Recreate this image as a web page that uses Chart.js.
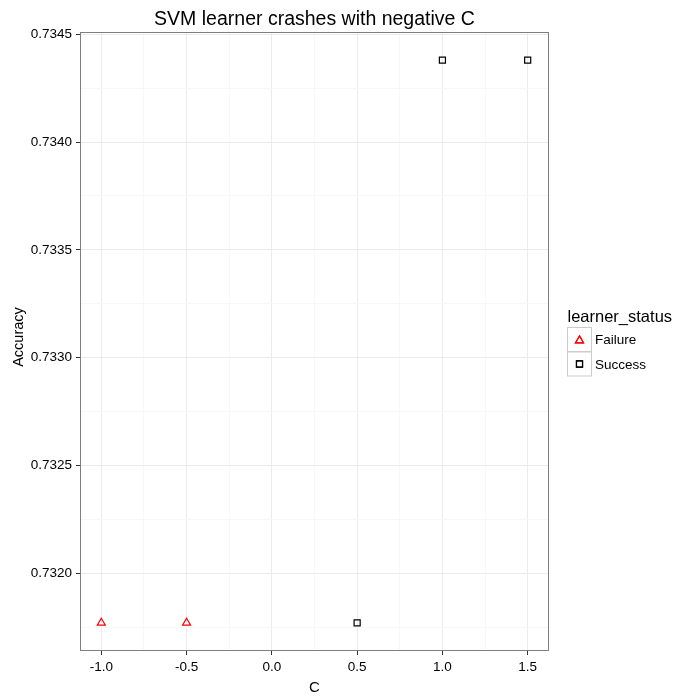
<!DOCTYPE html>
<html>
<head>
<meta charset="utf-8">
<script src="https://cdn.jsdelivr.net/npm/chart.js@4"></script>
<style>
  html, body { margin:0; padding:0; background:#fff; }
  #c { display:block; }
</style>
</head>
<body>
<canvas id="c" width="700" height="700"></canvas>
<script>
// SVM accuracy vs C, failures in red

const failureC = [-1.0, -0.5];
const failureAcc = [0.73177, 0.73177];
const successC = [0.5, 1.0, 1.5];
const successAcc = [0.73177, 0.73438, 0.73438];

const xMajor = [-1.0, -0.5, 0.0, 0.5, 1.0, 1.5];
const xMinor = [-0.75, -0.25, 0.25, 0.75, 1.25];
const yMajor = [0.7320, 0.7325, 0.7330, 0.7335, 0.7340, 0.7345];
const yMinor = [0.73175, 0.73225, 0.73275, 0.73325, 0.73375, 0.73425];

const FONT = '"Liberation Sans", Arial, sans-serif';

// ggplot-ish range expansion (5%)
function expand(vals){
  const lo = Math.min(...vals), hi = Math.max(...vals), d = (hi-lo)*0.05;
  return [lo-d, hi+d];
}
const [xMin, xMax] = expand(failureC.concat(successC));
const [yMin, yMax] = expand(failureAcc.concat(successAcc));

const isMajor = (list, v) => list.some(m => Math.abs(m-v) < 1e-9);

function setTicks(major, minor){
  return scale => {
    scale.ticks = major.concat(minor).sort((a,b)=>a-b).map(v => ({value:v}));
  };
}

const frame = {
  id:'frame',
  afterDraw(chart){
    const {ctx, chartArea:a} = chart;
    ctx.save();
    ctx.strokeStyle = '#7f7f7f';
    ctx.lineWidth = 1;
    ctx.strokeRect(a.left+0.5, a.top+0.5, a.right-a.left-1, a.bottom-a.top-1);

    ctx.fillStyle = '#000';
    ctx.textAlign = 'center';
    ctx.textBaseline = 'alphabetic';
    ctx.font = '19.5px ' + FONT;
    ctx.fillText('SVM learner crashes with negative C', (a.left+a.right)/2, 25);

    ctx.font = '15px ' + FONT;
    ctx.fillText('C', (a.left+a.right)/2, 692);
    ctx.save();
    ctx.translate(23, 337);
    ctx.rotate(-Math.PI/2);
    ctx.font = '14.5px ' + FONT;
    ctx.fillText('Accuracy', 0, 0);
    ctx.restore();

    // legend
    ctx.textAlign = 'left';
    ctx.font = '16.5px ' + FONT;
    ctx.fillText('learner_status', 567.5, 322);
    const keys = [
      {label:'Failure', style:'triangle', color:'#ff0000', r:4.6},
      {label:'Success', style:'rect', color:'#000000', r:4.3}
    ];
    keys.forEach((k,i)=>{
      const x = 567.5, y = 327.5 + i*24.5, s = 24;
      ctx.fillStyle = '#fff';
      ctx.fillRect(x, y, s, s);
      ctx.strokeStyle = '#cccccc';
      ctx.lineWidth = 1;
      ctx.strokeRect(x, y, s, s);
      ctx.strokeStyle = k.color;
      ctx.lineWidth = 1.2;
      Chart.helpers.drawPoint(ctx, {pointStyle:k.style, radius:k.r, rotation:0, borderWidth:1.2}, x+s/2, y+s/2+ (k.style==='triangle'?1:0));
      ctx.stroke();
      ctx.fillStyle = '#000';
      ctx.font = '13.5px ' + FONT;
      ctx.textBaseline = 'middle';
      ctx.fillText(k.label, x+s+3.5, y+s/2+1);
      ctx.textBaseline = 'alphabetic';
    });
    ctx.restore();
  }
};

new Chart(document.getElementById('c'), {
  type:'scatter',
  data:{
    datasets:[
      { label:'Failure', data: failureC.map((c,i)=>({x:c, y:failureAcc[i]})),
        pointStyle:'triangle', pointRadius:4.6, pointHoverRadius:4.6,
        borderColor:'#ff0000', backgroundColor:'rgba(0,0,0,0)', borderWidth:1.2 },
      { label:'Success', data: successC.map((c,i)=>({x:c, y:successAcc[i]})),
        pointStyle:'rect', pointRadius:4.3, pointHoverRadius:4.3,
        borderColor:'#000000', backgroundColor:'rgba(0,0,0,0)', borderWidth:1.2 }
    ]
  },
  options:{
    responsive:false,
    animation:false,
    layout:{ padding:{ left:0, right:151, top:32, bottom:0 } },
    plugins:{ legend:{display:false}, title:{display:false}, tooltip:{enabled:false} },
    scales:{
      x:{
        type:'linear', min:xMin, max:xMax,
        afterBuildTicks: setTicks(xMajor, xMinor),
        afterFit(s){ s.height = 49; },
        border:{display:false},
        grid:{
          color: c => isMajor(xMajor, c.tick.value) ? '#ebebeb' : '#f7f7f7',
          tickColor: c => isMajor(xMajor, c.tick.value) ? '#333' : 'rgba(0,0,0,0)',
          tickLength:4, lineWidth:1
        },
        ticks:{
          color:'#000', padding:4, maxRotation:0, autoSkip:false,
          font:{ family:FONT, size:13.5 },
          callback: v => isMajor(xMajor, v) ? v.toFixed(1) : ''
        }
      },
      y:{
        type:'linear', min:yMin, max:yMax,
        afterBuildTicks: setTicks(yMajor, yMinor),
        afterFit(s){ s.width = 80; },
        border:{display:false},
        grid:{
          color: c => isMajor(yMajor, c.tick.value) ? '#ebebeb' : '#f7f7f7',
          tickColor: c => isMajor(yMajor, c.tick.value) ? '#333' : 'rgba(0,0,0,0)',
          tickLength:4, lineWidth:1
        },
        ticks:{
          color:'#000', padding:4, autoSkip:false,
          font:{ family:FONT, size:13.5 },
          callback: v => isMajor(yMajor, v) ? v.toFixed(4) : ''
        }
      }
    }
  },
  plugins:[frame]
});
</script>
</body>
</html>
